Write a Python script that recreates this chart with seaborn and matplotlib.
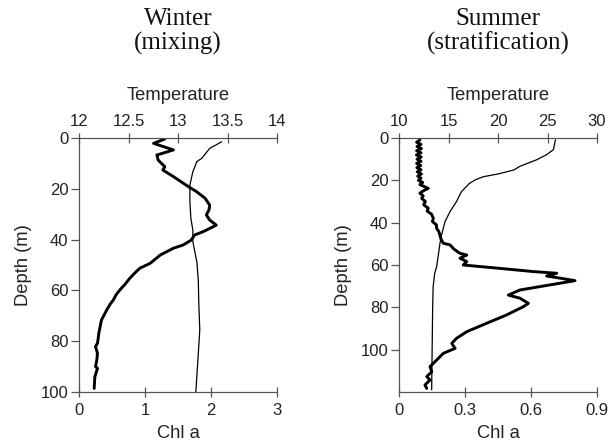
import matplotlib
matplotlib.use("Agg")
import matplotlib.pyplot as plt
import seaborn as sns
import pandas as pd

# ---------------- data ----------------
winter_chl_depth = [0.4, 2.1, 4.7, 6.7, 8.7, 11.3, 12.6, 15.2, 17.8, 19.2, 21.1, 23.7, 26.4, 28.3, 30.3,
                    32.3, 34.3, 36.9, 38.2, 40.2, 42.1, 43.4, 46.1, 49.3, 51.3, 53.3, 55.2, 57.5, 59.8,
                    61.8, 63.8, 65.5, 67.7, 69.7, 71.7, 74.3, 76.9, 79.0, 80.8, 82.1, 84.8, 87.4, 90.0,
                    90.7, 94.0, 98.6]
winter_chl = [1.30, 1.13, 1.43, 1.18, 1.20, 1.30, 1.27, 1.43, 1.58, 1.66, 1.78, 1.91, 1.98, 1.97, 1.93,
              1.98, 2.08, 1.88, 1.75, 1.70, 1.58, 1.43, 1.23, 1.08, 0.92, 0.84, 0.77, 0.70, 0.62,
              0.56, 0.52, 0.47, 0.42, 0.38, 0.34, 0.32, 0.30, 0.29, 0.28, 0.25, 0.28, 0.27, 0.25,
              0.28, 0.24, 0.23]

winter_temp_depth = [1.5, 4.1, 8.0, 9.3, 13.3, 18.5, 25.0, 31.6, 36.3, 40.8, 48.7, 55.9, 65.0, 75.6,
                     88.0, 100.0]
winter_temp = [13.44, 13.32, 13.24, 13.19, 13.15, 13.12, 13.12, 13.13, 13.15, 13.15, 13.19, 13.205,
               13.21, 13.22, 13.20, 13.18]

summer_chl_depth = [0.9, 2, 3, 4, 5, 6, 7, 8, 9, 10, 11, 12, 13, 14, 15, 16, 17, 18, 19, 20, 21, 22,
                    23.8, 25.0, 26.1, 27.3, 28.5, 30.0, 31.5, 33.2, 34.5, 36.0, 37.9, 39.5, 41.0, 42.7,
                    44.0, 45.8, 47.5, 49.7, 50.5, 52.5, 54.5, 55.3, 56.8, 58.4, 60.0, 61.6, 63.1, 63.9,
                    65.2, 66.0, 67.4, 68.6, 70.2, 71.8, 74.2, 75.7, 78.1, 79.7, 83.6, 87.5, 91.5, 94.6,
                    97.0, 99.4, 101.7, 104.9, 108.0, 110.4, 112.7, 114.3, 116.7, 118.3]
summer_chl = [0.095, 0.080, 0.100, 0.082, 0.102, 0.080, 0.100, 0.079, 0.101, 0.082, 0.100, 0.080, 0.099,
              0.081, 0.100, 0.083, 0.102, 0.085, 0.100, 0.088, 0.108, 0.095,
              0.133, 0.110, 0.095, 0.110, 0.103, 0.120, 0.112, 0.133, 0.128, 0.148, 0.156, 0.152, 0.170,
              0.171, 0.180, 0.186, 0.190, 0.201, 0.232, 0.250, 0.277, 0.308, 0.277, 0.308, 0.292, 0.459,
              0.610, 0.717, 0.671, 0.720, 0.800, 0.732, 0.641, 0.550, 0.497, 0.550, 0.588, 0.565, 0.489,
              0.399, 0.308, 0.262, 0.240, 0.255, 0.202, 0.171, 0.141, 0.149, 0.126, 0.141, 0.118, 0.126]

summer_temp_depth = [0.8, 5.5, 7.9, 10.3, 13.4, 15.1, 17.0, 18.3, 19.8, 21.5, 25.4, 30.1, 34.8, 39.5,
                     45.8, 49.7, 54.5, 60.8, 64.0, 70.3, 79.7, 98.7, 119.0]
summer_temp = [25.8, 25.6, 24.9, 23.9, 22.2, 21.6, 20.0, 18.5, 17.7, 17.1, 16.3, 15.8, 15.15, 14.65,
               14.3, 14.14, 14.0, 13.8, 13.6, 13.45, 13.4, 13.35, 13.3]

chl_ticks_w = [0, 1, 2, 3]
temp_ticks_w = [12, 12.5, 13, 13.5, 14]
chl_ticks_s = [0, 0.3, 0.6, 0.9]
temp_ticks_s = [10, 15, 20, 25, 30]
depth_ticks_w = [0, 20, 40, 60, 80, 100]
depth_ticks_s = [0, 20, 40, 60, 80, 100]

titles = [("Winter", "(mixing)"), ("Summer", "(stratification)")]

# ---------------- plotting ----------------
sns.set_style("white")
plt.rcParams['font.family'] = ['Liberation Sans', 'DejaVu Sans']

W, H = 611, 443
fig = plt.figure(figsize=(W / 100, H / 100), dpi=100)

spine_col = '#555555'
txt_col = '#222222'
TFS = 12      # tick labels
LFS = 13.2    # axis labels

panels = [
    dict(rect=[79 / W, 51 / H, 198 / W, 254 / H], chl=(winter_chl, winter_chl_depth),
         temp=(winter_temp, winter_temp_depth), xlim=(0, 3), tlim=(12, 14), ylim=(100, 0),
         xt=chl_ticks_w, tt=temp_ticks_w, yt=depth_ticks_w,
         xtl=['0', '1', '2', '3'], ttl=['12', '12.5', '13', '13.5', '14'], title=titles[0]),
    dict(rect=[399 / W, 51 / H, 198 / W, 254 / H], chl=(summer_chl, summer_chl_depth),
         temp=(summer_temp, summer_temp_depth), xlim=(0, 0.9), tlim=(10, 30), ylim=(120, 0),
         xt=chl_ticks_s, tt=temp_ticks_s, yt=depth_ticks_s,
         xtl=['0', '0.3', '0.6', '0.9'], ttl=['10', '15', '20', '25', '30'], title=titles[1]),
]

for p in panels:
    ax = fig.add_axes(p['rect'])
    ax2 = ax.twiny()
    dfc = pd.DataFrame({'chl': p['chl'][0], 'depth': p['chl'][1]})
    dft = pd.DataFrame({'temp': p['temp'][0], 'depth': p['temp'][1]})
    sns.lineplot(data=dfc, x='chl', y='depth', sort=False, orient='y', ax=ax,
                 color='black', linewidth=2.1)
    sns.lineplot(data=dft, x='temp', y='depth', sort=False, orient='y', ax=ax2,
                 color='black', linewidth=0.9)
    ax.set_xlim(*p['xlim'])
    ax2.set_xlim(*p['tlim'])
    ax.set_ylim(*p['ylim'])
    ax2.set_ylim(*p['ylim'])
    ax.set_xticks(p['xt'])
    ax.set_xticklabels(p['xtl'])
    ax2.set_xticks(p['tt'])
    ax2.set_xticklabels(p['ttl'])
    ax.set_yticks(p['yt'])
    ax.set_xlabel('Chl a', fontsize=LFS, color=txt_col, labelpad=5)
    ax.set_ylabel('Depth (m)', fontsize=LFS, color=txt_col, labelpad=6)
    ax2.set_xlabel('Temperature', fontsize=LFS, color=txt_col, labelpad=10)
    ax2.set_ylabel('')
    for a in (ax, ax2):
        for s in a.spines.values():
            s.set_color(spine_col)
            s.set_linewidth(0.9)
        a.spines['right'].set_visible(False)
    ax.spines['top'].set_visible(False)
    ax2.spines['bottom'].set_visible(False)
    ax2.spines['left'].set_visible(False)
    ax.tick_params(axis='x', direction='inout', length=6.5, width=0.9, color=spine_col,
                   labelsize=TFS, labelcolor=txt_col, bottom=True, pad=5)
    ax.tick_params(axis='y', direction='out', length=6, width=0.9, color=spine_col,
                   labelsize=TFS, labelcolor=txt_col, left=True, pad=1.5)
    ax2.tick_params(axis='x', direction='inout', length=6.5, width=0.9, color=spine_col,
                    labelsize=TFS, labelcolor=txt_col, top=True, pad=3.5)
    ax.grid(False)
    ax2.grid(False)
    cx = p['rect'][0] + p['rect'][2] / 2
    fig.text(cx, 1 - 25 / H, p['title'][0], ha='center', va='baseline', fontsize=18,
             family=['Liberation Serif'], color='#111111')
    fig.text(cx, 1 - 50 / H, p['title'][1], ha='center', va='baseline', fontsize=18,
             family=['Liberation Serif'], color='#111111')

fig.savefig('out.png', dpi=100)
